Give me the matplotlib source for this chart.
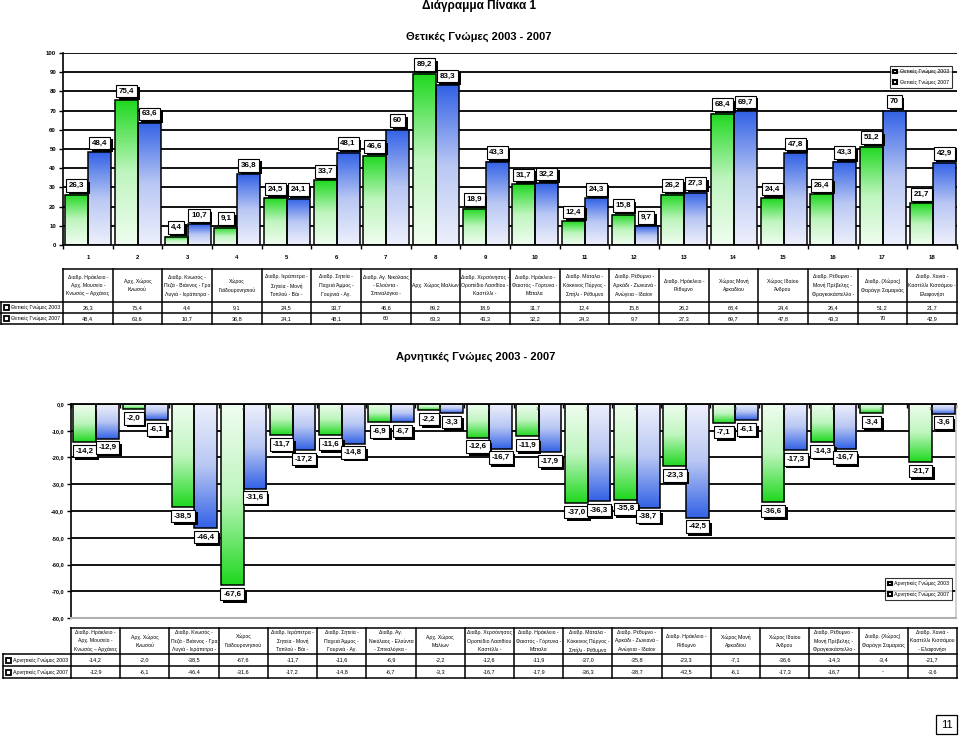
import numpy as np
import matplotlib
matplotlib.use("Agg")
import matplotlib.pyplot as plt
from matplotlib.colors import LinearSegmentedColormap
from matplotlib.patches import Rectangle, Patch
import matplotlib.patheffects as pe

plt.rcParams['font.family'] = ['Liberation Sans', 'DejaVu Sans']

W, H = 960, 737

# column headers of the two tables (line breaks as in the original)
places_top = [
    "Διαδρ. Ηράκλειο -\nΑρχ. Μουσείο -\nΚνωσός – Αρχάνες",
    "Αρχ. Χώρος\nΚνωσού",
    "Διαδρ. Κνωσός -\nΠεζά - Βιάννος - Γρα\nΛυγιά - Ιεράπετρα -",
    "Χώρος\nΓαϊδουρονησιού",
    "Διαδρ. Ιεράπετρα -\nΣητεία - Μονή\nΤοπλού - Βάι -",
    "Διαδρ. Σητεία -\nΠαχειά Άμμος -\nΓουρνιά - Αγ.",
    "Διαδρ. Αγ. Νικόλαος\n- Ελούντα -\nΣπιναλόγκα -",
    "Αρχ. Χώρος Μαλίων",
    "Διαδρ. Χερσόνησος -\nΟροπέδιο Λασιθίου -\nΚαστέλλι -",
    "Διαδρ. Ηράκλειο -\nΦαιστός - Γόρτυνα -\nΜάταλα",
    "Διαδρ. Μάταλα -\nΚόκκινος Πύργος -\nΣπήλι - Ρέθυμνο",
    "Διαδρ. Ρέθυμνο -\nΑρκάδι - Ζωνιανά -\nΑνώγεια - Ιδαίον",
    "Διαδρ. Ηράκλειο -\nΡέθυμνο",
    "Χώρος Μονή\nΑρκαδίου",
    "Χώρος Ιδαίου\nΆνδρου",
    "Διαδρ. Ρέθυμνο -\nΜονή Πρέβελης -\nΦραγκοκάστελλο -",
    "Διαδρ. (Χώρος)\nΦαράγγι Σαμαριάς",
    "Διαδρ. Χανιά -\nΚαστέλλι Κισσάμου -\nΕλαφονήσι",
]
places_bottom = [
    "Διαδρ. Ηράκλειο -\nΑρχ. Μουσείο -\nΚνωσός – Αρχάνες",
    "Αρχ. Χώρος\nΚνωσού",
    "Διαδρ. Κνωσός -\nΠεζά - Βιάννος - Γρα\nΛυγιά - Ιεράπετρα -",
    "Χώρος\nΓαϊδουρονησιού",
    "Διαδρ. Ιεράπετρα -\nΣητεία - Μονή\nΤοπλού - Βάι -",
    "Διαδρ. Σητεία -\nΠαχειά Άμμος -\nΓουρνιά - Αγ.",
    "Διαδρ. Αγ.\nΝικόλαος - Ελούντα\n- Σπιναλόγκα -",
    "Αρχ. Χώρος\nΜαλίων",
    "Διαδρ. Χερσόνησος\nΟροπέδιο Λασιθίου\nΚαστέλλι -",
    "Διαδρ. Ηράκλειο -\nΦαιστός - Γόρτυνα -\nΜάταλα",
    "Διαδρ. Μάταλα -\nΚόκκινος Πύργος -\nΣπήλι - Ρέθυμνο",
    "Διαδρ. Ρέθυμνο -\nΑρκάδι - Ζωνιανά -\nΑνώγεια - Ιδαίον",
    "Διαδρ. Ηράκλειο -\nΡέθυμνο",
    "Χώρος Μονή\nΑρκαδίου",
    "Χώρος Ιδαίου\nΆνδρου",
    "Διαδρ. Ρέθυμνο -\nΜονή Πρέβελης -\nΦραγκοκάστελλο -",
    "Διαδρ. (Χώρος)\nΦαράγγι Σαμαριάς",
    "Διαδρ. Χανιά -\nΚαστέλλι Κισσάμου\n- Ελαφονήσι",
]

pos_2003 = [26.3, 75.4, 4.4, 9.1, 24.5, 33.7, 46.6, 89.2, 18.9, 31.7, 12.4, 15.8, 26.2, 68.4, 24.4, 26.4, 51.2, 21.7]
pos_2007 = [48.4, 63.6, 10.7, 36.8, 24.1, 48.1, 60, 83.3, 43.3, 32.2, 24.3, 9.7, 27.3, 69.7, 47.8, 43.3, 70, 42.9]
neg_2003 = [-14.2, -2.0, -38.5, -67.6, -11.7, -11.6, -6.9, -2.2, -12.6, -11.9, -37.0, -35.8, -23.3, -7.1, -36.6, -14.3, -3.4, -21.7]
neg_2007 = [-12.9, -6.1, -46.4, -31.6, -17.2, -14.8, -6.7, -3.3, -16.7, -17.9, -36.3, -38.7, -42.5, -6.1, -17.3, -16.7, np.nan, -3.6]

pos_names = ["Θετικές Γνώμες 2003", "Θετικές Γνώμες 2007"]
neg_names = ["Αρνητικές Γνώμες 2003", "Αρνητικές Γνώμες 2007"]

green_cm = LinearSegmentedColormap.from_list('g', ['#f0fdf0', '#bff5bf', '#1ed81e'])
blue_cm = LinearSegmentedColormap.from_list('b', ['#eef0fc', '#b9c7f3', '#3261e6'])

BW = 0.46
OFF = 0.05


def fmt(v, dec):
    if np.isnan(v):
        return '-'
    s = f"{v:.1f}" if dec else f"{v:g}"
    return s.replace('.', ',')


def rect(l, t, r, b):
    return [l / W, 1 - b / H, (r - l) / W, (b - t) / H]


def draw_bars(ax, vals, x0s, cmap, negative=False):
    grad = np.linspace(0, 1, 256).reshape(-1, 1)
    if negative:
        grad = grad[::-1]
    for x0, v in zip(x0s, vals):
        if np.isnan(v):
            continue
        ax.imshow(grad, cmap=cmap, extent=[x0, x0 + BW, min(0, v), max(0, v)],
                  origin='lower', aspect='auto', zorder=2, interpolation='bilinear')
        ax.add_patch(Rectangle((x0, 0), BW, v, fill=False, ec='black', lw=1.1, zorder=3))


def bar_label(ax, x, v, txt, up):
    t = ax.annotate(txt, (x, v), xytext=(0, 4 if up else -4), textcoords='offset points',
                    ha='center', va='bottom' if up else 'top', fontsize=5.8, fontweight='bold',
                    bbox=dict(boxstyle='square,pad=0.35', fc='white', ec='black', lw=0.8),
                    zorder=6, annotation_clip=False)
    t.get_bbox_patch().set_path_effects(
        [pe.withSimplePatchShadow(offset=(1.8, -1.8), shadow_rgbFace='black', alpha=1)])


fig = plt.figure(figsize=(9.6, 7.37), dpi=100)
n = len(pos_2003)
idx = np.arange(n)

# ---------------- positive chart
ax1 = fig.add_axes(rect(63, 53, 957, 245))
draw_bars(ax1, pos_2003, idx + OFF, green_cm)
draw_bars(ax1, pos_2007, idx + OFF + BW, blue_cm)
for i in idx:
    bar_label(ax1, i + OFF + BW / 2, pos_2003[i], fmt(pos_2003[i], False), True)
    bar_label(ax1, i + OFF + 1.5 * BW, pos_2007[i], fmt(pos_2007[i], False), True)
for y in range(10, 101, 10):
    ax1.axhline(y, color='black', lw=1.3, zorder=1)
ax1.set_xlim(0, n)
ax1.set_ylim(0, 100)
ax1.set_yticks(range(0, 101, 10))
ax1.set_yticklabels([str(v) for v in range(0, 101, 10)], fontsize=4.3, fontweight='bold')
ax1.set_xticks(np.arange(n + 1))
ax1.set_xticklabels([])
ax1.set_xticks(idx + 0.5, minor=True)
ax1.set_xticklabels([str(i + 1) for i in idx], minor=True, fontsize=4.3, fontweight='bold')
ax1.tick_params(axis='x', which='minor', length=0, pad=7)
ax1.tick_params(axis='x', which='major', length=3, width=1)
ax1.tick_params(axis='y', length=3, width=1, pad=2)
for s in ['top', 'right']:
    ax1.spines[s].set_visible(False)
for s in ['left', 'bottom']:
    ax1.spines[s].set_linewidth(1.2)

h1 = [Patch(fc='white', ec='black', lw=1.5) for _ in pos_names]
leg1 = fig.legend(h1, pos_names, loc='upper right', bbox_to_anchor=(955 / W, 1 - 63 / H),
                  fontsize=3.8, frameon=True, fancybox=False, edgecolor='black',
                  handlelength=0.7, handleheight=0.7, handletextpad=0.6, borderpad=0.6,
                  labelspacing=0.9)
leg1.get_frame().set_linewidth(0.8)

# ---------------- negative chart
ax2 = fig.add_axes(rect(71, 404, 956, 618))
draw_bars(ax2, neg_2003, idx + OFF, green_cm, negative=True)
draw_bars(ax2, neg_2007, idx + OFF + BW, blue_cm, negative=True)
for i in idx:
    bar_label(ax2, i + OFF + BW / 2, neg_2003[i], fmt(neg_2003[i], True), False)
    if not np.isnan(neg_2007[i]):
        bar_label(ax2, i + OFF + 1.5 * BW, neg_2007[i], fmt(neg_2007[i], True), False)
for y in range(-70, 0, 10):
    ax2.axhline(y, color='black', lw=1.3, zorder=1)
ax2.set_xlim(0, n)
ax2.set_ylim(-80, 0)
ax2.set_yticks(range(-80, 1, 10))
ax2.set_yticklabels([fmt(v, True) for v in range(-80, 1, 10)], fontsize=4.0, fontweight='bold')
ax2.xaxis.tick_top()
ax2.set_xticks(np.arange(n + 1))
ax2.set_xticklabels([])
ax2.tick_params(axis='x', direction='in', length=3, width=1)
ax2.tick_params(axis='y', length=3, width=1, pad=2)
for i in idx:
    ax2.text(i + 0.5, -1.2, str(i + 1), fontsize=3.2, color='#555555', ha='center', va='top', zorder=4)
ax2.spines['top'].set_linewidth(1.3)
ax2.spines['left'].set_linewidth(1.2)
ax2.spines['bottom'].set_color('#b0b0b0')
ax2.spines['bottom'].set_linewidth(1.5)
ax2.spines['right'].set_color('#c8c8c8')
ax2.spines['right'].set_linewidth(1.2)

h2 = [Patch(fc='white', ec='black', lw=1.5) for _ in neg_names]
leg2 = fig.legend(h2, neg_names, loc='upper right', bbox_to_anchor=(955 / W, 1 - 575 / H),
                  fontsize=3.8, frameon=True, fancybox=False, edgecolor='black',
                  handlelength=0.7, handleheight=0.7, handletextpad=0.4, borderpad=0.6,
                  labelspacing=0.9)
leg2.get_frame().set_linewidth(0.8)

# ---------------- overlay for titles, tables and page number
axo = fig.add_axes([0, 0, 1, 1])
axo.set_xlim(0, W)
axo.set_ylim(H, 0)
axo.axis('off')

axo.text(479, 6, "Διάγραμμα Πίνακα 1", ha='center', va='center', fontsize=8.5, fontweight='bold')
axo.text(479, 37, "Θετικές Γνώμες 2003 - 2007", ha='center', va='center', fontsize=8, fontweight='bold')
axo.text(476, 357, "Αρνητικές Γνώμες 2003 - 2007", ha='center', va='center', fontsize=8, fontweight='bold')


def draw_table(x0, x1, lx0, ys, headers, rows, names, dec):
    yt, yh, yr1, yr2 = ys
    cw = (x1 - x0) / len(headers)
    kw = dict(color='black', lw=1.1, solid_capstyle='projecting')
    axo.plot([x0, x1], [yt, yt], **kw)
    for y in (yh, yr1, yr2):
        axo.plot([lx0, x1], [y, y], **kw)
    axo.plot([lx0, lx0], [yh, yr2], **kw)
    for k in range(len(headers) + 1):
        axo.plot([x0 + k * cw] * 2, [yt, yr2], **kw)
    for k, hd in enumerate(headers):
        axo.text(x0 + (k + 0.5) * cw, (yt + yh) / 2, hd, ha='center', va='center',
                 fontsize=3.7, linespacing=1.8)
        for r, (y0, y1) in enumerate([(yh, yr1), (yr1, yr2)]):
            axo.text(x0 + (k + 0.5) * cw, (y0 + y1) / 2, fmt(rows[r][k], dec),
                     ha='center', va='center', fontsize=4)
    for r, (y0, y1) in enumerate([(yh, yr1), (yr1, yr2)]):
        yc = (y0 + y1) / 2
        axo.add_patch(Rectangle((lx0 + 3, yc - 2.5), 5, 5, fc='white', ec='black', lw=1.3))
        axo.text(lx0 + 10, yc, names[r], ha='left', va='center', fontsize=3.8)


draw_table(63, 957, 1, (269, 302, 313, 324), places_top, [pos_2003, pos_2007], pos_names, False)
draw_table(71, 957, 3, (628, 654, 666, 678), places_bottom, [neg_2003, neg_2007], neg_names, True)

axo.add_patch(Rectangle((936, 715), 21, 19, fc='white', ec='black', lw=0.9))
axo.text(946.5, 724.5, "11", ha='center', va='center', fontsize=8)

fig.savefig("out.png", dpi=100)
